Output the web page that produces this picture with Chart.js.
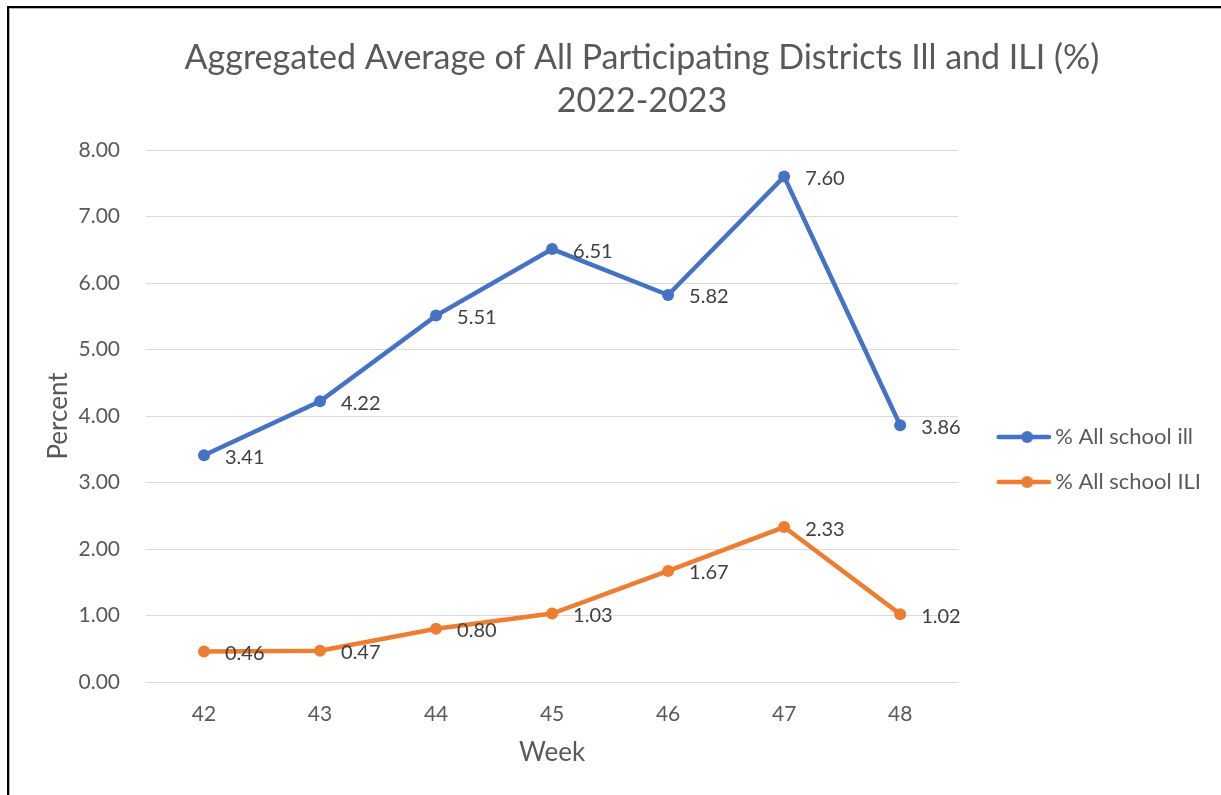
<!DOCTYPE html>
<html>
<head>
<meta charset="utf-8">
<title>Aggregated Average Ill and ILI</title>
<script src="https://cdn.jsdelivr.net/npm/chart.js@4.4.1/dist/chart.umd.min.js"></script>
<style>
  html, body { margin: 0; padding: 0; background: #fff; overflow: hidden; }
  #wrap { position: relative; width: 1221px; height: 795px; }
  #chart { position: absolute; left: 0; top: 0; }
  /* frame of the chart object, cut off at right and bottom */
  #frame {
    position: absolute; left: 7px; top: 6px; right: -20px; bottom: -20px;
    border-left: 2px solid #000; border-top: 2px solid #000;
    box-shadow: inset 1px 1px 0 #b4b4b4; pointer-events: none;
  }
</style>
</head>
<body>
<div id="wrap">
  <canvas id="chart" width="1221" height="795"></canvas>
  <div id="frame"></div>
</div>
<script>
  const weeks = ['42', '43', '44', '45', '46', '47', '48'];
  const schoolIll = [3.41, 4.22, 5.51, 6.51, 5.82, 7.60, 3.86];
  const schoolIli = [0.46, 0.47, 0.80, 1.03, 1.67, 2.33, 1.02];
  const seriesNames = ['% All school ill', '% All school ILI'];
  const seriesColors = ['#4472C4', '#ED7D31'];
  const yMin = 0, yMax = 8, yStep = 1;

  const FONT = 'Lato';
  const GREY_TEXT = '#595959';
  const PAD_LEFT = 73;

  // small line + dot marker used in the legend
  function legendMarker(color) {
    const c = document.createElement('canvas');
    c.width = 76; c.height = 14;
    const g = c.getContext('2d');
    g.strokeStyle = color;
    g.lineWidth = 4.5;
    g.lineCap = 'round';
    g.beginPath(); g.moveTo(24, 7); g.lineTo(74, 7); g.stroke();
    g.fillStyle = color;
    g.beginPath(); g.arc(52.5, 7, 6, 0, Math.PI * 2); g.fill();
    return c;
  }
  const markers = seriesColors.map(legendMarker);

  // value labels right of each point
  const valueLabels = {
    id: 'valueLabels',
    afterDatasetsDraw(chart) {
      const ctx = chart.ctx;
      ctx.save();
      ctx.font = '20px ' + FONT;
      ctx.fillStyle = '#404040';
      ctx.textAlign = 'left';
      ctx.textBaseline = 'middle';
      chart.data.datasets.forEach((ds, i) => {
        chart.getDatasetMeta(i).data.forEach((pt, j) => {
          ctx.fillText(ds.data[j].toFixed(2), pt.x + 21, pt.y + 2);
        });
      });
      ctx.restore();
    }
  };

  const lineStyle = (color) => ({
    borderColor: color,
    backgroundColor: color,
    borderWidth: 4.5,
    pointRadius: 6,
    pointHoverRadius: 6,
    pointBorderWidth: 0,
    pointBackgroundColor: color,
    tension: 0,
    clip: false
  });

  new Chart(document.getElementById('chart'), {
    type: 'line',
    data: {
      labels: weeks,
      datasets: [
        Object.assign({ label: seriesNames[0], data: schoolIll }, lineStyle(seriesColors[0])),
        Object.assign({ label: seriesNames[1], data: schoolIli }, lineStyle(seriesColors[1]))
      ]
    },
    options: {
      responsive: false,
      animation: false,
      layout: { padding: { left: PAD_LEFT, right: 10, top: 0, bottom: 22.4 } },
      plugins: {
        title: {
          display: true,
          text: ['Aggregated Average of All Participating Districts Ill and ILI (%)', '2022-2023'],
          color: GREY_TEXT,
          font: { family: FONT, size: 34, weight: 'normal', lineHeight: 43 / 34 },
          padding: { top: 36.5, bottom: 27.5 }
        },
        legend: {
          position: 'right',
          align: 'center',
          fullSize: false,
          title: { display: true, text: ' ', font: { size: 10, lineHeight: 1.2 }, padding: { top: 75, bottom: 0 } },
          labels: {
            usePointStyle: true,
            pointStyleWidth: 63,
            padding: 23,
            color: GREY_TEXT,
            font: { family: FONT, size: 22 },
            generateLabels(chart) {
              const items = Chart.defaults.plugins.legend.labels.generateLabels(chart);
              items.forEach((it, i) => { it.pointStyle = markers[i]; });
              return items;
            }
          }
        },
        tooltip: { enabled: false }
      },
      scales: {
        x: {
          offset: true,
          grid: { display: false, drawTicks: false },
          border: { display: false },
          ticks: { color: GREY_TEXT, font: { family: FONT, size: 21 }, padding: 19.8 },
          title: {
            display: true,
            text: 'Week',
            color: GREY_TEXT,
            font: { family: FONT, size: 26 },
            padding: { top: -9.4, bottom: 4 }
          }
        },
        y: {
          min: yMin,
          max: yMax,
          afterFit(scale) { scale.width = 146 - PAD_LEFT; },
          grid: { color: '#d9d9d9', lineWidth: 1, drawTicks: false },
          border: { display: false },
          ticks: {
            stepSize: yStep,
            color: GREY_TEXT,
            font: { family: FONT, size: 21 },
            padding: 26,
            callback: (v) => Number(v).toFixed(2)
          },
          title: {
            display: true,
            text: 'Percent',
            color: GREY_TEXT,
            font: { family: FONT, size: 26 },
            padding: { top: -29.6, bottom: 4 }
          }
        }
      }
    },
    plugins: [valueLabels]
  });
</script>
</body>
</html>
